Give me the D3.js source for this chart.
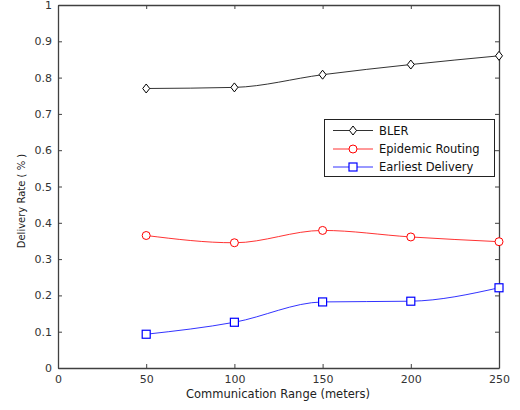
<!DOCTYPE html>
<html><head><meta charset="utf-8">
<script src="https://cdn.jsdelivr.net/npm/d3@7"></script>
<style>body{margin:0;background:#fff}svg{display:block}text{font-family:"DejaVu Sans",sans-serif}</style>
</head><body>
<svg id="c" width="520" height="410"></svg>
<script>
const ranges = [50, 100, 150, 200, 250];
const bler = [0.770, 0.773, 0.808, 0.836, 0.860];
const epidemic = [0.365, 0.345, 0.379, 0.361, 0.348];
const earliest = [0.093, 0.126, 0.182, 0.184, 0.221];
const xTicks = [0, 50, 100, 150, 200, 250];
const yTicks = [0, 0.1, 0.2, 0.3, 0.4, 0.5, 0.6, 0.7, 0.8, 0.9, 1];
const seriesNames = ["BLER", "Epidemic Routing", "Earliest Delivery"];
const seriesColors = ["#000000", "#ff0000", "#0000ff"];
const seriesMarkers = ["diamond", "circle", "square"];
const seriesValues = [bler, epidemic, earliest];

const svg = d3.select("#c");
const L = 58, R = 499, T = 5, B = 368;
const x = d3.scaleLinear().domain([0, 250]).range([L, R]);
const y = d3.scaleLinear().domain([0, 1]).range([B, T]);
const axisCol = "#404040";
const fs = 11;
const ff = "'DejaVu Sans',sans-serif";

const gx = svg.append("g").attr("transform", `translate(0,${B})`)
  .call(d3.axisBottom(x).tickValues(xTicks).tickFormat(d3.format("d")).tickSizeInner(-4).tickSizeOuter(0).tickPadding(7));
const gy = svg.append("g").attr("transform", `translate(${L},0)`)
  .call(d3.axisLeft(y).tickValues(yTicks).tickFormat(d => d3.format("")(+d.toFixed(1))).tickSizeInner(-4).tickSizeOuter(0).tickPadding(6));
const gt = svg.append("g").attr("transform", `translate(0,${T})`)
  .call(d3.axisTop(x).tickValues(xTicks).tickFormat("").tickSizeInner(-4).tickSizeOuter(0));
const gr = svg.append("g").attr("transform", `translate(${R},0)`)
  .call(d3.axisRight(y).tickValues(yTicks).tickFormat("").tickSizeInner(-4).tickSizeOuter(0));
[gx, gy, gt, gr].forEach(g => {
  g.select(".domain").attr("stroke", axisCol).attr("stroke-width", 1.3);
  g.selectAll(".tick line").attr("stroke", axisCol);
  g.selectAll(".tick text").attr("fill", "#333").style("font-size", fs + "px").style("font-family", ff);
});
gx.selectAll(".tick text").attr("dy", "0.71em");

svg.append("text").attr("x", 278).attr("y", 398).attr("text-anchor", "middle")
  .attr("fill", "#222").style("font-size", "11.5px").text("Communication Range (meters)");
svg.append("text").attr("transform", `translate(25,201) rotate(-90)`).attr("text-anchor", "middle")
  .attr("fill", "#222").style("font-size", "10px").text("Delivery Rate ( % )");

function marker(g, type, color, cx, cy) {
  if (type === "diamond") {
    g.append("path").attr("d", `M${cx},${cy - 4.5}L${cx + 3.5},${cy}L${cx},${cy + 4.5}L${cx - 3.5},${cy}Z`)
      .attr("fill", "white").attr("stroke", color).attr("stroke-width", 1);
  } else if (type === "circle") {
    g.append("circle").attr("cx", cx).attr("cy", cy).attr("r", 4)
      .attr("fill", "white").attr("stroke", color).attr("stroke-width", 1);
  } else {
    g.append("rect").attr("x", cx - 4).attr("y", cy - 4).attr("width", 8).attr("height", 8)
      .attr("fill", "white").attr("stroke", color).attr("stroke-width", 1.2);
  }
}

const line = d3.line().x(d => x(d[0])).y(d => y(d[1])).curve(d3.curveMonotoneX);
seriesValues.forEach((vals, i) => {
  const pts = ranges.map((r, j) => [r, vals[j]]);
  const g = svg.append("g");
  g.append("path").attr("d", line(pts)).attr("fill", "none").attr("stroke", seriesColors[i]).attr("stroke-width", 1).attr("opacity", 0.8);
  pts.forEach(p => marker(g, seriesMarkers[i], seriesColors[i], x(p[0]), y(p[1])));
});

const lg = svg.append("g");
lg.append("rect").attr("x", 324.5).attr("y", 119.5).attr("width", 170).attr("height", 57)
  .attr("fill", "white").attr("stroke", "#222").attr("stroke-width", 1);
const ly = [130.5, 149, 167];
seriesNames.forEach((n, i) => {
  lg.append("line").attr("x1", 333).attr("x2", 373).attr("y1", ly[i]).attr("y2", ly[i])
    .attr("stroke", seriesColors[i]).attr("opacity", 0.8);
  marker(lg, seriesMarkers[i], seriesColors[i], 353, ly[i]);
  lg.append("text").attr("x", 379).attr("y", ly[i]).attr("dy", "0.35em").attr("fill", "#111")
    .style("font-size", "11.5px").text(n);
});
</script>
</body></html>
